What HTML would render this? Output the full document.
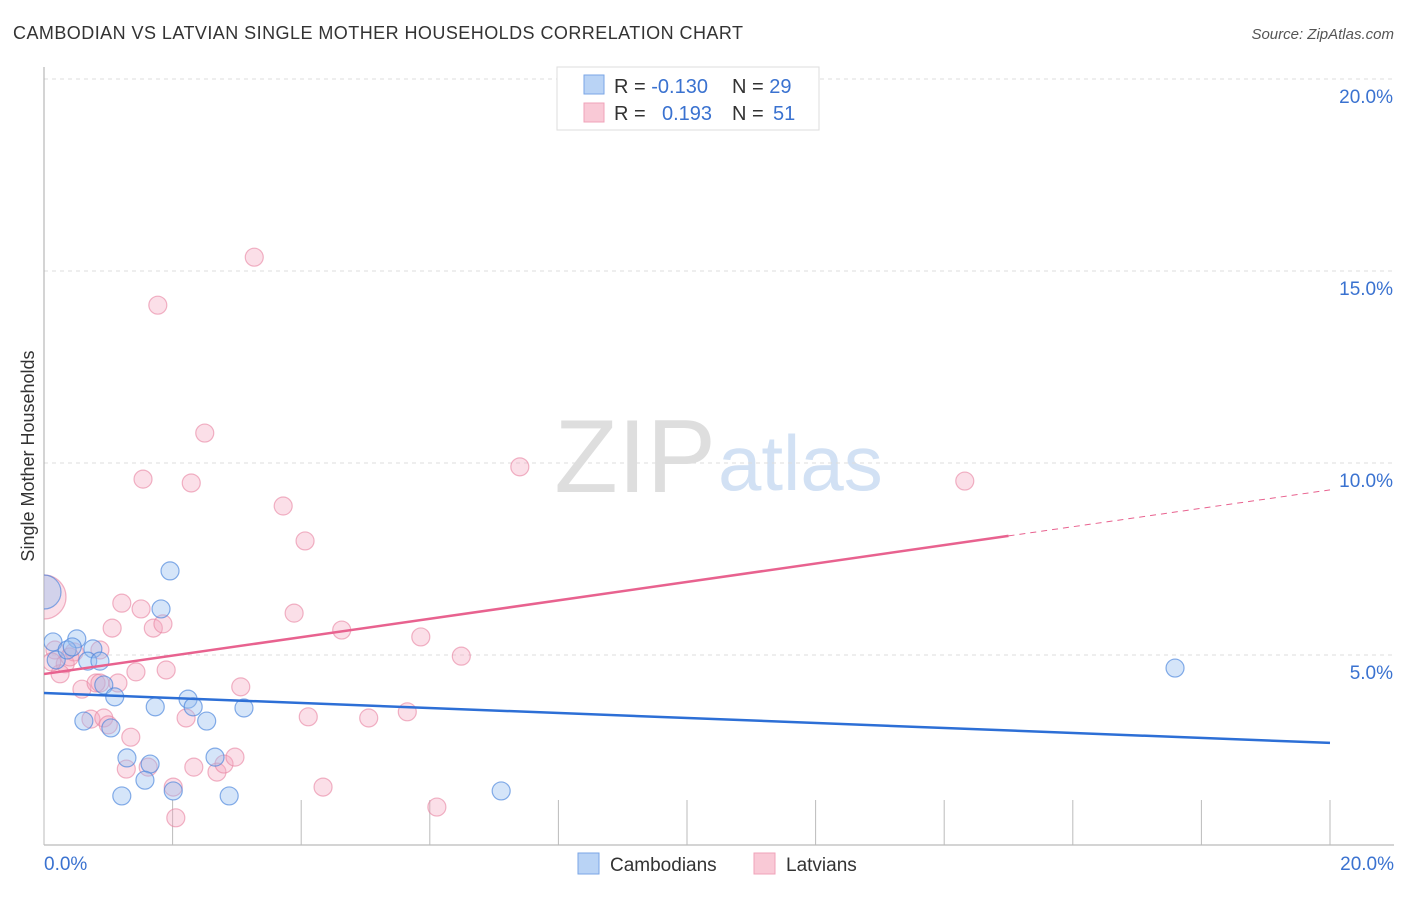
<!DOCTYPE html>
<html><head><meta charset="utf-8"><style>
body{margin:0;background:#fff;font-family:"Liberation Sans",sans-serif;}
svg text{font-family:"Liberation Sans",sans-serif;}
</style></head><body>
<svg id="chart" width="1406" height="892">
<defs><clipPath id="plotclip"><rect x="44" y="60" width="1360" height="790"/></clipPath></defs>
<text x="13" y="39" font-size="18" fill="#333" textLength="730">CAMBODIAN VS LATVIAN SINGLE MOTHER HOUSEHOLDS CORRELATION CHART</text>
<text x="1394" y="39" font-size="15" fill="#555" font-style="italic" text-anchor="end">Source: ZipAtlas.com</text>
<text x="716" y="492" font-size="104" fill="#dedede" font-family="Liberation Serif" text-anchor="end">ZIP</text>
<text x="718" y="490" font-size="78" fill="#d2e1f4">atlas</text>
<g id="grid"></g><g id="axes"></g><g id="marks" clip-path="url(#plotclip)"></g>
<text transform="translate(34,456) rotate(-90)" font-size="18" fill="#333" text-anchor="middle">Single Mother Households</text>
<text x="44" y="870" font-size="19" fill="#3a72d0">0.0%</text>
<text x="1394" y="870" font-size="19" fill="#3a72d0" text-anchor="end">20.0%</text>
<g>
<rect x="557" y="67" width="262" height="63" fill="#fff" stroke="#ddd"/>
<rect x="584" y="75" width="20" height="19" fill="#b9d3f5" stroke="#7aa6e6"/>
<rect x="584" y="103" width="20" height="19" fill="#f9c9d6" stroke="#f0a3b9"/>
<text x="614" y="93" font-size="20" fill="#333">R = <tspan fill="#3a72d0">-0.130</tspan><tspan x="732">N = </tspan><tspan fill="#3a72d0">29</tspan></text>
<text x="614" y="120" font-size="20" fill="#333">R = <tspan x="662" fill="#3a72d0">0.193</tspan><tspan x="732">N = </tspan><tspan fill="#3a72d0" x="773">51</tspan></text>
</g>
<g>
<rect x="578" y="853" width="21" height="21" fill="#b9d3f5" stroke="#7aa6e6"/>
<text x="610" y="871" font-size="19" fill="#333">Cambodians</text>
<rect x="754" y="853" width="21" height="21" fill="#f9c9d6" stroke="#f0a3b9"/>
<text x="786" y="871" font-size="19" fill="#333">Latvians</text>
</g>
</svg>
<script>
const yTicks=[5,10,15,20];
const xTicks=[0,2,4,6,8,10,12,14,16,18,20];
const blueX=[0.19,0.14,0.51,0.36,0.76,0.44,0.68,0.87,0.93,1.10,0.62,1.04,1.82,1.96,1.73,2.24,2.32,2.53,3.11,1.29,1.65,1.57,2.01,2.66,2.88,1.21,7.11,17.59,0];
const blueY=[4.87,5.34,5.42,5.13,5.16,5.21,4.84,4.84,4.22,3.91,3.28,3.10,6.20,7.19,3.65,3.85,3.65,3.28,3.62,2.32,2.16,1.74,1.46,2.34,1.33,1.33,1.46,4.66,6.64];
const pinkX=[3.27,1.77,2.50,1.54,2.29,7.40,14.32,3.72,4.06,1.21,1.51,3.89,1.06,1.70,1.85,4.63,5.86,6.49,0.17,0.33,0.25,0.47,1.43,1.90,0.59,0.81,1.15,3.06,0.73,0.93,1.00,1.35,2.21,4.11,5.05,5.65,1.28,1.62,2.33,2.69,2.80,2.97,2.01,4.34,2.05,6.11,0.12,0.87,0.40,0.87,0];
const pinkY=[15.36,14.11,10.78,9.58,9.48,9.90,9.53,8.88,7.97,6.35,6.20,6.09,5.70,5.70,5.81,5.65,5.47,4.97,5.13,4.77,4.51,5.08,4.56,4.61,4.11,4.27,4.27,4.17,3.33,3.36,3.18,2.86,3.36,3.39,3.36,3.52,2.03,2.08,2.08,1.95,2.16,2.34,1.56,1.56,0.76,1.04,4.82,4.27,4.95,5.13,6.51];
const blueTrend=[4.01,2.71];
const pinkTrend=[4.505,9.30];
const pinkSolidEnd=15;
const NS='http://www.w3.org/2000/svg';
const X=v=>44+v*64.3, Y=v=>847-v*38.4;
function mk(tag,attrs,parent){const e=document.createElementNS(NS,tag);for(const k in attrs)e.setAttribute(k,attrs[k]);document.getElementById(parent).appendChild(e);return e;}
yTicks.forEach(t=>{
 const l=mk('line',{x1:44,x2:1394,y1:Y(t),y2:Y(t),stroke:'#ddd','stroke-dasharray':'4,4'},'grid');
 
 
 const tx=mk('text',{x:1393,y:Y(t)+24,'font-size':19,fill:'#3a72d0','text-anchor':'end'},'grid');
 tx.textContent=t.toFixed(1)+'%';
 
 
});
const ax=mk('line',{x1:44,x2:44,y1:67,y2:845,stroke:'#aaa'},'axes');


const bx=mk('line',{x1:44,x2:1394,y1:845,y2:845,stroke:'#aaa'},'axes');


xTicks.forEach(t=>{
 const l=mk('line',{x1:X(t),x2:X(t),y1:800,y2:845,stroke:'#bbb'},'axes');
 
 
});
function dots(xs,ys,fill,stroke,name){
 xs.forEach((x,i)=>{
  const big=(x===0);
  const c=mk('circle',{cx:X(x),cy:Y(ys[i]),r:big?(name==='latvian-point'?22:17):9,fill:fill,stroke:stroke,'stroke-width':1.2},'marks');
  
  
 });
}
dots(pinkX,pinkY,'rgba(244,164,188,0.35)','rgba(232,130,160,0.6)','latvian-point');
dots(blueX,blueY,'rgba(150,190,240,0.4)','rgba(70,130,220,0.65)','cambodian-point');
const pAt=v=>pinkTrend[0]+(pinkTrend[1]-pinkTrend[0])*v/20;
const p1=mk('line',{x1:X(0),y1:Y(pinkTrend[0]),x2:X(pinkSolidEnd),y2:Y(pAt(pinkSolidEnd)),stroke:'#e8628f','stroke-width':2.5},'marks');


const p2=mk('line',{x1:X(pinkSolidEnd),y1:Y(pAt(pinkSolidEnd)),x2:X(20),y2:Y(pinkTrend[1]),stroke:'#e8628f','stroke-width':1,'stroke-dasharray':'6,5'},'marks');


const b1=mk('line',{x1:X(0),y1:Y(blueTrend[0]),x2:X(20),y2:Y(blueTrend[1]),stroke:'#2d6fd6','stroke-width':2.5},'marks');


</script>
</body></html>
